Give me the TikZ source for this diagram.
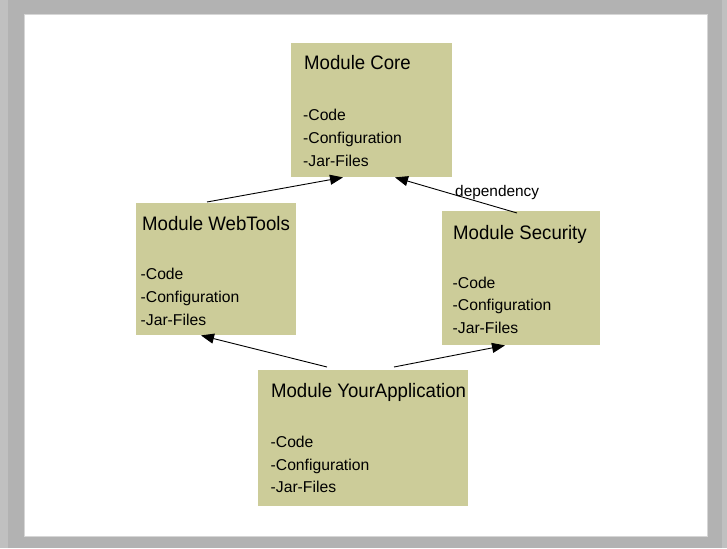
\documentclass[tikz,border=0pt]{standalone}
\usepackage{fontspec}
\setmainfont{Liberation Sans}
\usetikzlibrary{arrows.meta}
\definecolor{frame}{RGB}{178,178,178}
\definecolor{frameedge}{RGB}{192,192,192}
\definecolor{pageedge}{RGB}{214,214,214}
\definecolor{khaki}{RGB}{204,204,153}
\tikzset{
  modbox/.style={rectangle, fill=khaki, draw=none, anchor=north west, inner sep=0pt},
  modtitle/.style={anchor=base west, inner sep=0pt, xscale=0.955, font=\fontsize{19.5}{22}\selectfont},
  modline/.style={anchor=base west, inner sep=0pt, font=\fontsize{15.7}{19}\selectfont},
  deplabel/.style={anchor=base west, inner sep=0pt, font=\fontsize{15.4}{18}\selectfont},
  deparrow/.style={line width=0.9pt, -{Triangle[length=13pt,width=10pt]}}
}
\begin{document}
\begin{tikzpicture}[x=1pt,y=-1pt]
  % slide frame and page
  \fill[frame] (0,0) rectangle (727,548);
  \fill[frameedge] (0,0) rectangle (8,548);
  \fill[frameedge] (722,0) rectangle (727,548);
  \useasboundingbox (0,0) rectangle (727,548);
  \filldraw[fill=white, draw=pageedge, line width=0.8pt] (24,14) rectangle (707,536);

  % module boxes
  \node[modbox, minimum width=161pt, minimum height=134pt] (core) at (291,43) {};
  \node[modbox, minimum width=160pt, minimum height=132pt] (web) at (135.5,203) {};
  \node[modbox, minimum width=158pt, minimum height=134pt] (sec) at (442,211) {};
  \node[modbox, minimum width=210pt, minimum height=136pt] (app) at (257.5,370) {};

  % Module Core
  \node[modtitle] (coreT) at ([shift={(13,27)}]core.north west) {Module Core};
  \node[modline] (coreA) at ([shift={(12,77.7)}]core.north west) {-Code};
  \node[modline] (coreB) at ([shift={(12,101)}]core.north west) {-Configuration};
  \node[modline] (coreC) at ([shift={(12,123.7)}]core.north west) {-Jar-Files};

  % Module WebTools
  \node[modtitle] (webT) at ([shift={(6.5,27)}]web.north west) {Module WebTools};
  \node[modline] (webA) at ([shift={(5,76)}]web.north west) {-Code};
  \node[modline] (webB) at ([shift={(5,99)}]web.north west) {-Configuration};
  \node[modline] (webC) at ([shift={(5,122)}]web.north west) {-Jar-Files};

  % Module Security
  \node[modtitle] (secT) at ([shift={(11,28.3)}]sec.north west) {Module Security};
  \node[modline] (secA) at ([shift={(10.5,77)}]sec.north west) {-Code};
  \node[modline] (secB) at ([shift={(10.5,99.5)}]sec.north west) {-Configuration};
  \node[modline] (secC) at ([shift={(10.5,122.3)}]sec.north west) {-Jar-Files};

  % Module YourApplication
  \node[modtitle] (appT) at ([shift={(13.4,27.3)}]app.north west) {Module YourApplication};
  \node[modline] (appA) at ([shift={(13,77.3)}]app.north west) {-Code};
  \node[modline] (appB) at ([shift={(13,100)}]app.north west) {-Configuration};
  \node[modline] (appC) at ([shift={(13,122.3)}]app.north west) {-Jar-Files};

  % dependencies
  \draw[deparrow] ([shift={(71.5,-1)}]web.north west) -- ([shift={(52,0)}]core.south west);
  \draw[deparrow] ([shift={(75,2)}]sec.north west) -- ([shift={(104,0)}]core.south west);
  \draw[deparrow] ([shift={(69.5,-3)}]app.north west) -- ([shift={(65.5,0)}]web.south west);
  \draw[deparrow] ([shift={(136.5,-3)}]app.north west) -- ([shift={(63,0)}]sec.south west);
  \node[deplabel] (dep) at (455,196.7) {dependency};
\end{tikzpicture}
\end{document}
